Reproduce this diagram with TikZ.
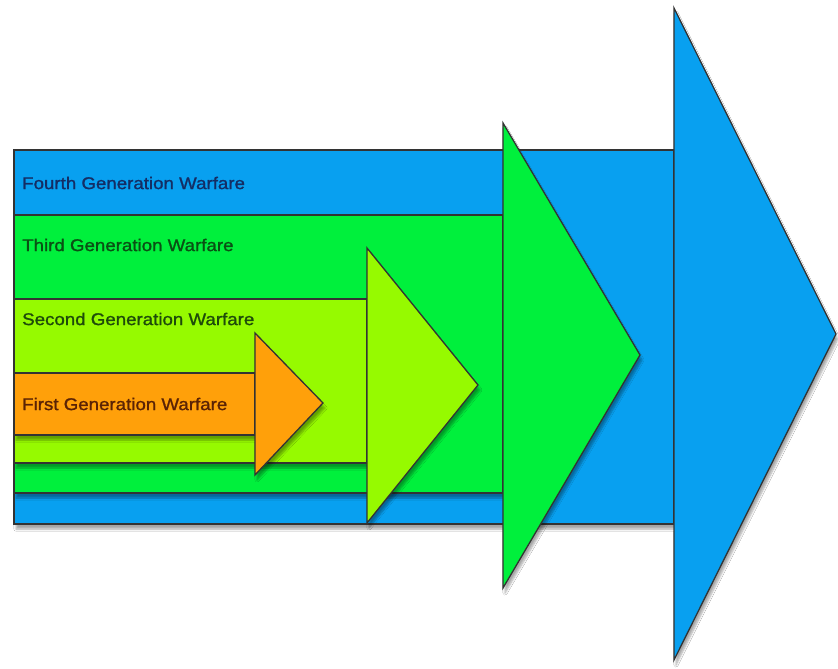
\documentclass[tikz,border=0pt]{standalone}
\usepackage{fontspec}
\setmainfont{Liberation Sans}[FakeStretch=1.1, FakeBold=1.2]
\usetikzlibrary{shadows.blur}
\definecolor{cblue}{RGB}{8,160,240}
\definecolor{cgreen}{RGB}{0,240,60}
\definecolor{clime}{RGB}{150,250,0}
\definecolor{corange}{RGB}{255,160,10}
\definecolor{tblue}{RGB}{20,45,100}
\definecolor{tgreen}{RGB}{10,80,20}
\definecolor{tlime}{RGB}{30,75,10}
\definecolor{torange}{RGB}{90,35,5}
\tikzset{
  piece/.style={draw=black!80, line width=1.3bp, line join=miter},
  shade/.style={blur shadow={shadow xshift=2bp, shadow yshift=-5bp, shadow blur steps=6, shadow opacity=35}},
  lbl/.style={anchor=west, inner sep=0pt, font=\fontsize{17bp}{19bp}\selectfont},
}
\begin{document}
\begin{tikzpicture}[x=1bp, y=-1bp]
\useasboundingbox[fill=white] (0,0) rectangle (838,669);
% Fourth generation (blue)
\path[shade, fill=cblue] (14,150) -- (674,150) -- (674,8) -- (836,334) -- (674,660) -- (674,524) -- (14,524) -- cycle;
\draw[piece, fill=cblue] (14,150) rectangle (674,524);
\draw[piece, fill=cblue] (674,8) -- (836,334) -- (674,660) -- cycle;
% Third generation (green)
\path[shade, fill=cgreen] (14,215) -- (503,215) -- (503,123) -- (640,355) -- (503,588) -- (503,493) -- (14,493) -- cycle;
\draw[piece, fill=cgreen] (14,215) rectangle (503,493);
\draw[piece, fill=cgreen] (503,123) -- (640,355) -- (503,588) -- cycle;
% Second generation (lime)
\path[shade, fill=clime] (14,299) -- (367,299) -- (367,248) -- (478,385) -- (367,523) -- (367,463) -- (14,463) -- cycle;
\draw[piece, fill=clime] (14,299) rectangle (367,463);
\draw[piece, fill=clime] (367,248) -- (478,385) -- (367,523) -- cycle;
% First generation (orange)
\path[shade, fill=corange] (14,373) -- (255,373) -- (255,333) -- (323,403) -- (255,475) -- (255,435) -- (14,435) -- cycle;
\draw[piece, fill=corange] (14,373) rectangle (255,435);
\draw[piece, fill=corange] (255,333) -- (323,403) -- (255,475) -- cycle;
% labels
\node[lbl, text=tblue] (g4) at (22,183) {Fourth Generation Warfare};
\node[lbl, text=tgreen] (g3) at (22,245) {Third Generation Warfare};
\node[lbl, text=tlime] (g2) at (22,319) {Second Generation Warfare};
\node[lbl, text=torange] (g1) at (22,404) {First Generation Warfare};
\end{tikzpicture}
\end{document}
